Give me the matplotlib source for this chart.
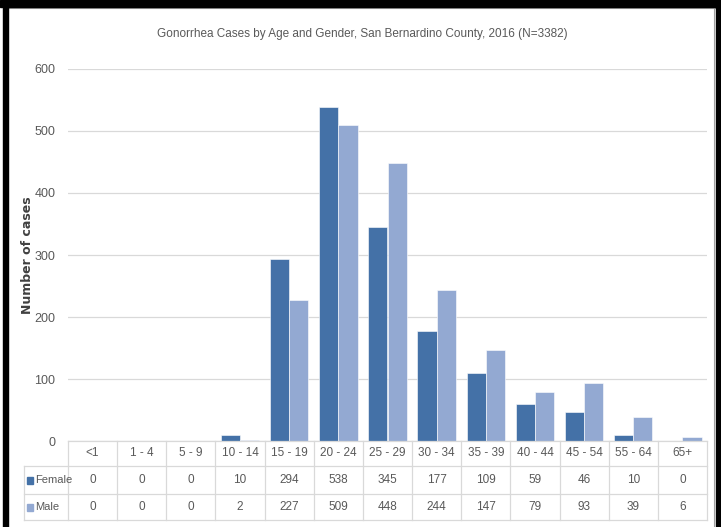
import matplotlib.pyplot as plt
import matplotlib.transforms as mtransforms
from matplotlib.patches import Rectangle
from matplotlib.lines import Line2D
import numpy as np

plt.rcParams['font.family'] = ['Liberation Sans', 'DejaVu Sans']

age_groups = ['<1', '1 - 4', '5 - 9', '10 - 14', '15 - 19', '20 - 24', '25 - 29',
              '30 - 34', '35 - 39', '40 - 44', '45 - 54', '55 - 64', '65+']
female = [0, 0, 0, 10, 294, 538, 345, 177, 109, 59, 46, 10, 0]
male = [0, 0, 0, 2, 227, 509, 448, 244, 147, 79, 93, 39, 6]

FEMALE_C = '#4471A7'
MALE_C = '#93A9D2'
GRID_C = '#D9D9D9'
TEXT_C = '#595959'

W, H = 721, 527
fig = plt.figure(figsize=(W / 100, H / 100), dpi=100)

# axes box in pixel terms
x0, x1 = 68, 707
y_top, y_bot = 69, 441
ax = fig.add_axes([x0 / W, (H - y_bot) / H, (x1 - x0) / W, (y_bot - y_top) / H])

n = len(age_groups)
x = np.arange(n)
bw = 0.39
ax.bar(x - bw / 2, female, bw, color=FEMALE_C, edgecolor='white', linewidth=0.4, zorder=3)
ax.bar(x + bw / 2, male, bw, color=MALE_C, edgecolor='white', linewidth=0.4, zorder=3)

ax.set_xlim(-0.5, n - 0.5)
ax.set_ylim(0, 600)
ax.set_yticks(range(0, 601, 100))
ax.yaxis.grid(True, color=GRID_C, linewidth=0.9, zorder=0)
ax.set_axisbelow(True)
for s in ax.spines.values():
    s.set_visible(False)
ax.tick_params(axis='y', length=0, pad=9, labelsize=9, labelcolor=TEXT_C)
ax.set_xticks([])

fig.text(28 / W, (H - 255) / H, 'Number of cases', rotation=90, ha='center', va='center',
         fontsize=9, fontweight='bold', color='#404040', family='DejaVu Sans')
fig.text(362 / W, (H - 34) / H,
         'Gonorrhea Cases by Age and Gender, San Bernardino County, 2016 (N=3382)',
         ha='center', va='center', fontsize=8.5, color=TEXT_C)

# data table under the bars (pixel coordinates)
pix = mtransforms.Affine2D().scale(1 / W, -1 / H).translate(0, 1) + fig.transFigure
col_w = (x1 - x0) / n
rows_y = [441, 466, 494, 520]
tab_left = 24
line_kw = dict(color=GRID_C, linewidth=0.9, transform=pix)

fig.add_artist(Line2D([x0, x1], [441, 441], **line_kw))
for yy in rows_y[1:]:
    fig.add_artist(Line2D([tab_left, x1], [yy, yy], **line_kw))
fig.add_artist(Line2D([tab_left, tab_left], [rows_y[1], rows_y[3]], **line_kw))
for i in range(n + 1):
    xx = x0 + i * col_w
    fig.add_artist(Line2D([xx, xx], [rows_y[0], rows_y[3]], **line_kw))

tab_fs = 8.5
for i, lab in enumerate(age_groups):
    cx = x0 + (i + 0.5) * col_w
    fig.text(cx, (rows_y[0] + rows_y[1]) / 2, lab, ha='center', va='center',
             fontsize=tab_fs, color=TEXT_C, transform=pix)
    fig.text(cx, (rows_y[1] + rows_y[2]) / 2, str(female[i]), ha='center', va='center',
             fontsize=tab_fs, color=TEXT_C, transform=pix)
    fig.text(cx, (rows_y[2] + rows_y[3]) / 2, str(male[i]), ha='center', va='center',
             fontsize=tab_fs, color=TEXT_C, transform=pix)

for (name, col, r) in [('Female', FEMALE_C, 1), ('Male', MALE_C, 2)]:
    cy = (rows_y[r] + rows_y[r + 1]) / 2
    fig.add_artist(Rectangle((27, cy - 3.5), 6, 7, color=col, transform=pix))
    fig.text(35, cy, name, ha='left', va='center', fontsize=8, color=TEXT_C, transform=pix)

# black frame on the left, top and right edges
for rect in [(3, 0, 5, H), (0, 0, W, 7), (716, 0, 5, H)]:
    fig.add_artist(Rectangle((rect[0], rect[1]), rect[2], rect[3], color='black',
                             transform=pix, zorder=10))
fig.add_artist(Line2D([8, 716], [8, 8], color='#A0A0A0', linewidth=0.8, transform=pix))
fig.add_artist(Line2D([714, 714], [7, H], color='#A0A0A0', linewidth=0.8, transform=pix))

fig.savefig('out.png', dpi=100)
